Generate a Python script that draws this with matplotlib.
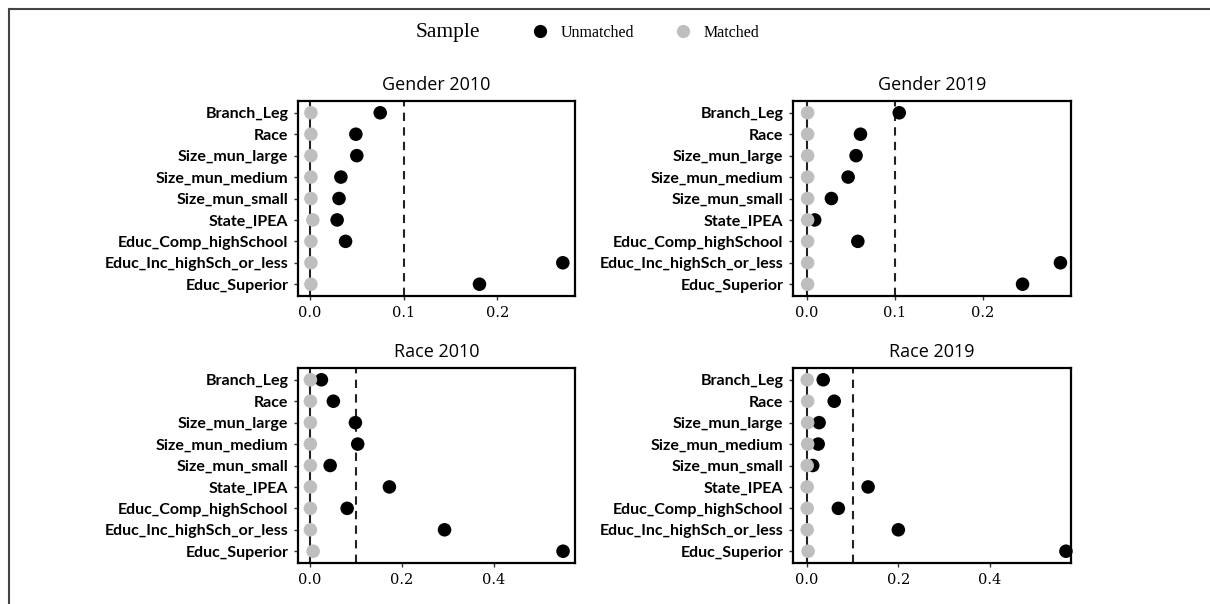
import matplotlib.pyplot as plt
from matplotlib.lines import Line2D

covariates = ["Branch_Leg", "Race", "Size_mun_large", "Size_mun_medium",
              "Size_mun_small", "State_IPEA", "Educ_Comp_highSchool",
              "Educ_Inc_highSch_or_less", "Educ_Superior"]

titles = ["Gender 2010", "Gender 2019", "Race 2010", "Race 2019"]

# absolute standardized mean differences
unmatched = [
    [0.075, 0.049, 0.050, 0.033, 0.031, 0.029, 0.038, 0.270, 0.181],
    [0.105, 0.061, 0.056, 0.047, 0.028, 0.009, 0.058, 0.288, 0.245],
    [0.025, 0.051, 0.099, 0.104, 0.044, 0.173, 0.081, 0.293, 0.551],
    [0.036, 0.060, 0.027, 0.025, 0.013, 0.134, 0.069, 0.200, 0.566],
]
matched = [
    [0.001, 0.001, 0.001, 0.001, 0.001, 0.003, 0.001, 0.001, 0.001],
    [0.001, 0.001, 0.001, 0.001, 0.001, 0.001, 0.001, 0.001, 0.001],
    [0.001, 0.001, 0.001, 0.001, 0.001, 0.001, 0.001, 0.001, 0.007],
    [0.001, 0.002, 0.002, 0.002, 0.001, 0.001, 0.001, 0.001, 0.003],
]
xlims = [(-0.0128, 0.283), (-0.0156, 0.300), (-0.026, 0.577), (-0.030, 0.577)]
xticks = [[0.0, 0.1, 0.2], [0.0, 0.1, 0.2], [0.0, 0.2, 0.4], [0.0, 0.2, 0.4]]

W, H = 1210, 604
fig = plt.figure(figsize=(W / 100, H / 100), dpi=100)

# axes boxes in pixels: left, top, right, bottom
boxes = [(298, 101, 575, 296), (793, 101, 1071, 296),
         (298, 368, 575, 563), (793, 368, 1071, 563)]

grey = "#BEBEBE"
for i in range(4):
    l, t, r, b = boxes[i]
    ax = fig.add_axes([l / W, 1 - b / H, (r - l) / W, (b - t) / H])
    y = list(range(len(covariates)))
    ax.axvline(0, color="#222222", lw=1.5, zorder=1)
    ax.axvline(0.1, color="#222222", lw=1.5, ls=(0, (4, 3)), zorder=1)
    ax.scatter(unmatched[i], y, s=95, color="black", zorder=3, edgecolors="none", clip_on=False)
    ax.scatter(matched[i], y, s=95, color=grey, zorder=4, edgecolors="none", clip_on=False)
    ax.set_ylim(len(covariates) - 0.45, -0.55)
    ax.set_xlim(*xlims[i])
    ax.set_yticks(y)
    ax.set_yticklabels(covariates, fontfamily="Lato", fontweight="bold", fontsize=11.5)
    ax.set_xticks(xticks[i])
    ax.set_xticklabels([f"{v:.1f}" for v in xticks[i]], fontfamily="DejaVu Serif", fontsize=10.5)
    ax.tick_params(length=3, width=1, color="#333333", pad=4)
    for sp in ax.spines.values():
        sp.set_linewidth(1.6)
    ax.set_title(titles[i], fontfamily="Open Sans", fontsize=13, pad=8)

# legend
fig.text(480 / W, 1 - 33 / H, "Sample", fontfamily="Liberation Serif", fontsize=15.5,
         ha="right", va="center")
handles = [Line2D([], [], marker="o", ls="", color="black", markersize=8.5),
           Line2D([], [], marker="o", ls="", color=grey, markersize=8.5)]
fig.legend(handles, ["Unmatched", "Matched"], ncol=2, frameon=False,
           loc="center left", bbox_to_anchor=(510 / W, 1 - 33 / H),
           prop={"family": "Liberation Serif", "size": 11.5}, handletextpad=0.3,
           columnspacing=2.0)

# frame of the cropped screenshot
fig.add_artist(Line2D([9 / W, 9 / W], [0, 1 - 9 / H], color="#444444", lw=1.5))
fig.add_artist(Line2D([9 / W, 1], [1 - 9 / H, 1 - 9 / H], color="#444444", lw=1.5))

fig.savefig("out.png", dpi=100)
